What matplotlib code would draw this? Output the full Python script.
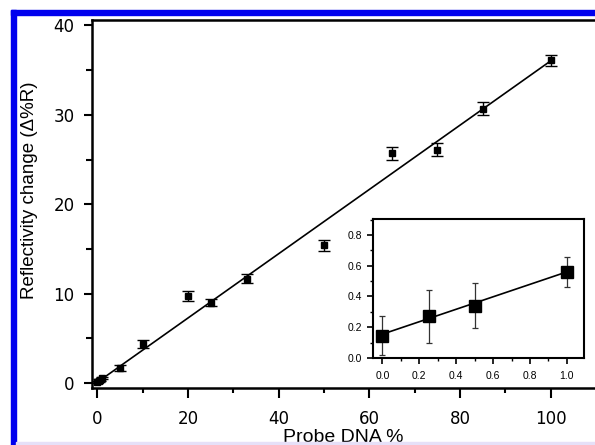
import numpy as np
import matplotlib.pyplot as plt
from matplotlib.patches import Rectangle
from matplotlib.ticker import MultipleLocator

# main data: probe DNA % vs reflectivity change
probe_pct = [0, 0.25, 0.5, 1, 5, 10, 20, 25, 33, 50, 65, 75, 85, 100]
refl = [0.15, 0.27, 0.34, 0.56, 1.7, 4.4, 9.7, 9.0, 11.65, 15.4, 25.7, 26.1, 30.7, 36.1]
refl_err = [0.12, 0.17, 0.15, 0.1, 0.35, 0.45, 0.55, 0.4, 0.5, 0.65, 0.75, 0.75, 0.7, 0.6]
fit_x = [0, 100.5]
fit_y = [0.1, 36.2]

# inset data (low %)
ins_x = [0.0, 0.25, 0.5, 1.0]
ins_y = [0.145, 0.27, 0.34, 0.56]
ins_err = [0.125, 0.17, 0.145, 0.1]
ins_fit_x = [0.0, 1.0]
ins_fit_y = [0.155, 0.56]

plt.rcParams['font.family'] = ['Liberation Sans', 'DejaVu Sans']

fig = plt.figure(figsize=(5.95, 4.45), dpi=100)

# blue frame bits around the figure
fig.patches.append(Rectangle((11/595, 0), 5/595, 435/445, transform=fig.transFigure,
                             color='#0000ee', zorder=0))
fig.patches.append(Rectangle((11/595, 430/445), 584/595, 5/445, transform=fig.transFigure,
                             color='#0000ee', zorder=0))
fig.patches.append(Rectangle((16/595, 0), 579/595, 3/445, transform=fig.transFigure,
                             color='#e6e0f8', zorder=0))

ax = fig.add_axes([92/595, 57/445, 1 - 92/595, 368/445])
ax.errorbar(probe_pct, refl, yerr=refl_err, fmt='s', color='black', ms=4.5,
            capsize=4, elinewidth=1, capthick=1, zorder=3)
ax.plot(fit_x, fit_y, color='black', lw=1.2)

ax.set_xlim(-1.2, 109.8)
ax.set_ylim(-0.55, 40.6)
ax.xaxis.set_major_locator(MultipleLocator(20))
ax.xaxis.set_minor_locator(MultipleLocator(10))
ax.yaxis.set_major_locator(MultipleLocator(10))
ax.yaxis.set_minor_locator(MultipleLocator(5))
ax.tick_params(axis='x', which='major', direction='out', length=7.5, width=1.5, pad=8)
ax.tick_params(axis='x', which='minor', direction='out', length=3.5, width=1.5)
ax.tick_params(axis='y', which='major', direction='out', length=5.5, width=1.5, pad=7)
ax.tick_params(axis='y', which='minor', direction='out', length=4, width=1.5)
for lab in ax.get_xticklabels() + ax.get_yticklabels():
    lab.set_family('DejaVu Sans')
    lab.set_fontsize(12)
ax.spines['right'].set_visible(False)
for s in ['left', 'bottom', 'top']:
    ax.spines[s].set_linewidth(1.8)
ax.set_xlabel('Probe DNA %', fontsize=14)
ax.set_ylabel('Reflectivity change (Δ%R)', fontsize=13.5)
ax.xaxis.set_label_coords(0.5, -0.112)
ax.yaxis.set_label_coords(-0.108, 0.538)

# inset
axi = fig.add_axes([373/595, 87/445, 211/595, 139/445])
axi.errorbar(ins_x, ins_y, yerr=ins_err, fmt='s', color='black', ms=8,
             ecolor='#333333', capsize=2.5, elinewidth=0.9, capthick=0.9, zorder=3)
axi.plot(ins_fit_x, ins_fit_y, color='black', lw=1.2)
axi.set_xlim(-0.051, 1.093)
axi.set_ylim(0, 0.904)
axi.xaxis.set_major_locator(MultipleLocator(0.2))
axi.xaxis.set_minor_locator(MultipleLocator(0.1))
axi.yaxis.set_major_locator(MultipleLocator(0.2))
axi.yaxis.set_minor_locator(MultipleLocator(0.1))
axi.xaxis.set_major_formatter(lambda v, p: f'{v:.1f}')
axi.yaxis.set_major_formatter(lambda v, p: f'{v:.1f}')
axi.tick_params(which='major', direction='out', length=4, width=1.2, labelsize=7.5)
axi.tick_params(axis='x', which='major', pad=5.5)
axi.tick_params(axis='y', which='major', pad=4)
axi.tick_params(which='minor', direction='out', length=2.5, width=1.0)
for s in axi.spines.values():
    s.set_linewidth(1.5)

fig.savefig('out.png', dpi=100)
